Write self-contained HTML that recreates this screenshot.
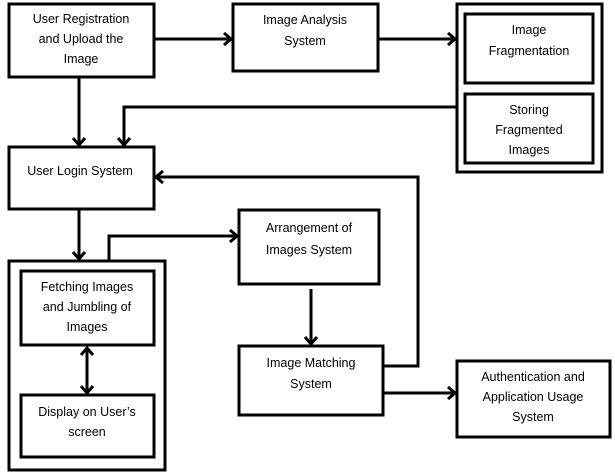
<!DOCTYPE html>
<html><head><meta charset="utf-8"><style>
html,body{margin:0;padding:0;background:#fff;width:615px;height:473px;overflow:hidden}
text{font-family:"Liberation Sans",sans-serif;font-size:12.5px;fill:#000;text-anchor:middle}
</style></head><body>
<svg width="615" height="473" viewBox="0 0 615 473" xmlns="http://www.w3.org/2000/svg">
<g fill="none" stroke="#000" stroke-width="3">
<rect x="9" y="4" width="145" height="73"/>
<rect x="233" y="4" width="145" height="67"/>
<rect x="457" y="4" width="145" height="168"/>
<rect x="465" y="14" width="128" height="69"/>
<rect x="465" y="94" width="128" height="69"/>
<rect x="9" y="147" width="145" height="62"/>
<rect x="239" y="210" width="140" height="74"/>
<rect x="9" y="261" width="156" height="209"/>
<rect x="21" y="271" width="133" height="74"/>
<rect x="21" y="395" width="133" height="62"/>
<rect x="239" y="346" width="144" height="69"/>
<rect x="457" y="361" width="153" height="76"/>
</g>
<g fill="none" stroke="#000" stroke-width="3" stroke-linejoin="miter">
<path d="M154 39H230"/><path d="M224 33l7 6-7 6"/>
<path d="M378 39H454"/><path d="M448 33l7 6-7 6"/>
<path d="M79 77V144"/><path d="M73 138l6 7 6-7"/>
<path d="M457 107H124V144"/><path d="M118 138l6 7 6-7"/>
<path d="M79 209V258"/><path d="M73 252l6 7 6-7"/>
<path d="M109 261V236H236"/><path d="M230 230l7 6-7 6"/>
<path d="M311 289V343"/><path d="M305 337l6 7 6-7"/>
<path d="M383 366H418V177H157"/><path d="M163 171l-7 6 7 6"/>
<path d="M383 393H454"/><path d="M448 387l7 6-7 6"/>
<path d="M87 349V392"/><path d="M81 355l6-7 6 7"/><path d="M81 386l6 7 6-7"/>
</g>
<text x="81" y="23">User Registration</text>
<text x="81" y="43">and Upload the</text>
<text x="81" y="63">Image</text>
<text x="305" y="24">Image Analysis</text>
<text x="305" y="45">System</text>
<text x="529" y="34">Image</text>
<text x="529" y="55">Fragmentation</text>
<text x="529" y="114">Storing</text>
<text x="529" y="134">Fragmented</text>
<text x="529" y="154">Images</text>
<text x="80" y="175">User Login System</text>
<text x="309" y="232">Arrangement of</text>
<text x="309" y="254">Images System</text>
<text x="87" y="291">Fetching Images</text>
<text x="87" y="311">and Jumbling of</text>
<text x="87" y="331">Images</text>
<text x="87" y="416">Display on User’s</text>
<text x="87" y="436">screen</text>
<text x="311" y="367">Image Matching</text>
<text x="311" y="388">System</text>
<text x="533" y="381">Authentication and</text>
<text x="533" y="401">Application Usage</text>
<text x="533" y="421">System</text>
</svg>
</body></html>
